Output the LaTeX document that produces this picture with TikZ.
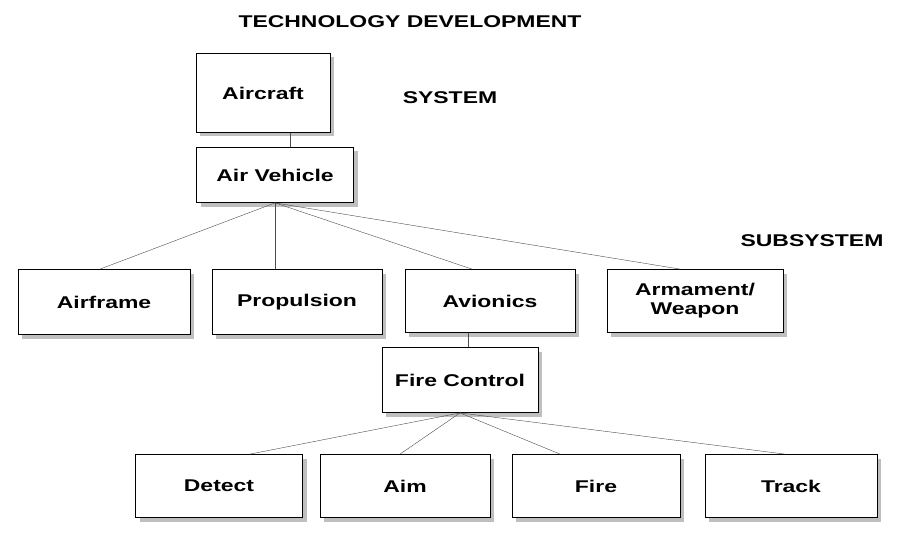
\documentclass[tikz,border=0pt]{standalone}
\usepackage{fontspec}
\setmainfont[FakeStretch=1.35]{Liberation Sans}
\usetikzlibrary{shadows}
\begin{document}
\begin{tikzpicture}[x=1pt,y=-1pt,
  box/.style={draw,thick,fill=white,font=\bfseries\fontsize{17}{19}\selectfont,align=center,inner sep=0pt,
    drop shadow={shadow xshift=4pt,shadow yshift=-4pt,fill=black!25,opacity=1}},
  head/.style={font=\bfseries\fontsize{17}{19}\selectfont},
  link/.style={draw,black!70}]
  \useasboundingbox (0,0) rectangle (909,540);
  % labels
  \node[head] (td) at (410,22) {TECHNOLOGY DEVELOPMENT};
  \node[head] (sys) at (450,98) {SYSTEM};
  \node[head] (sub) at (812,241) {SUBSYSTEM};
  % boxes
  \node[box,minimum width=134,minimum height=79] (aircraft) at (263,93) {Aircraft};
  \node[box,minimum width=157,minimum height=55] (vehicle) at (275,175) {Air Vehicle};
  \node[box,minimum width=172,minimum height=65] (airframe) at (104,302) {Airframe};
  \node[box,minimum width=170,minimum height=65] (propulsion) at (297,302) {Propulsion};
  \node[box,minimum width=170,minimum height=63] (avionics) at (490,301) {Avionics};
  \node[box,minimum width=176,minimum height=63] (armament) at (695,301) {Armament/\\Weapon};
  \node[box,minimum width=156,minimum height=65] (fire control) at (460,380) {Fire Control};
  \node[box,minimum width=167,minimum height=63] (detect) at (219,486) {Detect};
  \node[box,minimum width=170,minimum height=63] (aim) at (405,486) {Aim};
  \node[box,minimum width=168,minimum height=63] (fire) at (596,486) {Fire};
  \node[box,minimum width=172,minimum height=63] (track) at (791,486) {Track};
  % connectors
  \coordinate (v) at (vehicle.south);
  \coordinate (f) at (fire control.south);
  \path[link] (aircraft.south -| 290,0) -- (vehicle.north -| 290,0);
  \path[link] (v) -- (airframe.north -| 100,0);
  \path[link] (v) -- (propulsion.north -| 275,0);
  \path[link] (v) -- (avionics.north -| 472,0);
  \path[link] (v) -- (armament.north -| 680,0);
  \path[link] (avionics.south -| 468,0) -- (fire control.north -| 468,0);
  \path[link] (f) -- (detect.north -| 250,0);
  \path[link] (f) -- (aim.north -| 400,0);
  \path[link] (f) -- (fire.north -| 560,0);
  \path[link] (f) -- (track.north -| 785,0);
\end{tikzpicture}
\end{document}
